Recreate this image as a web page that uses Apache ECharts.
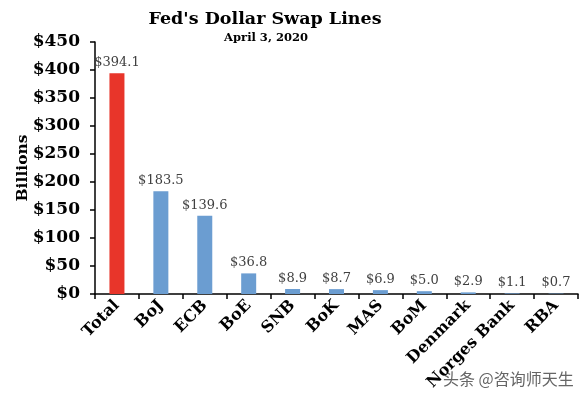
<!DOCTYPE html>
<html><head><meta charset="utf-8">
<script src="https://cdn.jsdelivr.net/npm/echarts@6/dist/echarts.min.js"></script>
<style>html,body{margin:0;padding:0;background:#fff}#c{width:583px;height:400px}</style>
</head><body><div id="c"></div>
<script>
const categories = ['Total','BoJ','ECB','BoE','SNB','BoK','MAS','BoM','Denmark','Norges Bank','RBA'];
const values = [394.1,183.5,139.6,36.8,8.9,8.7,6.9,5.0,2.9,1.1,0.7];
const yTicks = [0,50,100,150,200,250,300,350,400,450];
const serif = '"DejaVu Serif", Georgia, serif';
const chart = echarts.init(document.getElementById('c'));
chart.setOption({
  animation:false,
  backgroundColor:'#fff',
  title:[{text:"Fed's Dollar Swap Lines",left:260,top:5,textAlign:'center',
    textStyle:{fontFamily:serif,fontWeight:'bold',fontSize:17.5,color:'#000'}},
    {text:'April 3, 2020',left:261,top:27,textAlign:'center',
    textStyle:{fontFamily:serif,fontWeight:'bold',fontSize:11.5,color:'#000'}}],
  grid:{left:95,right:5,top:42,bottom:106,containLabel:false},
  xAxis:{type:'category',data:categories,
    axisLine:{lineStyle:{color:'#000',width:1.5}},
    axisTick:{show:true,alignWithLabel:false,length:5,lineStyle:{color:'#000',width:1.5}},
    axisLabel:{rotate:45,interval:0,margin:9,fontFamily:serif,fontWeight:'bold',fontSize:16,color:'#000'}},
  yAxis:{type:'value',min:yTicks[0],max:yTicks[yTicks.length-1],interval:50,
    name:'Billions',nameLocation:'middle',nameGap:64,nameRotate:90,nameMoveOverlap:false,
    nameTextStyle:{fontFamily:serif,fontWeight:'bold',fontSize:15.5,color:'#000'},
    splitLine:{show:false},
    axisLine:{show:true,lineStyle:{color:'#000',width:1.5}},
    axisTick:{show:true,length:5,lineStyle:{color:'#000',width:1.5}},
    axisLabel:{margin:15,fontFamily:serif,fontWeight:'bold',fontSize:17,color:'#000',
      formatter:v=>'$'+v}},
  series:[{type:'bar',barWidth:15,
    data:values.map((v,i)=>({value:v,itemStyle:{color:i===0?'#E8352A':'#6B9DD1'}})),
    label:{show:true,position:'top',distance:4,fontFamily:serif,fontSize:13,color:'#404040',
      formatter:p=>'$'+p.value.toFixed(1)}}],
  graphic:[{type:'text',left:443,top:371,style:{text:'头条 @咨询师天生',
    font:'16px "Noto Sans CJK SC", sans-serif',fill:'#666'}}]
});
</script></body></html>
